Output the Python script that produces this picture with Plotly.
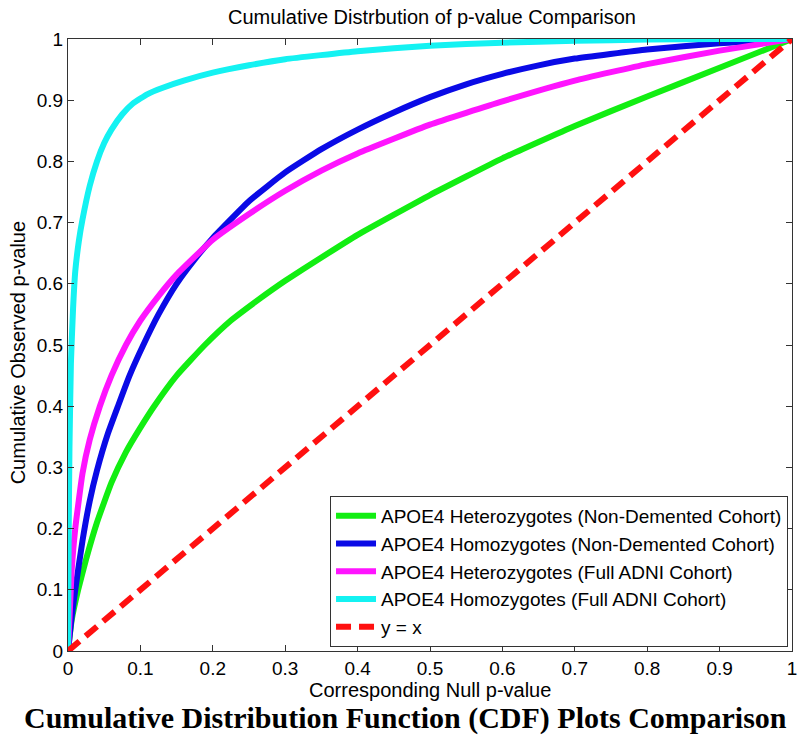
import plotly.graph_objects as go

# ---- data ----
het_nd_x = [0, 0.005, 0.014, 0.025, 0.04, 0.06, 0.08, 0.1, 0.119, 0.15, 0.189, 0.225, 0.264, 0.3, 0.35, 0.4, 0.5, 0.6, 0.7, 0.8, 0.9, 1.0]
het_nd_y = [0, 0.05, 0.10, 0.15, 0.21, 0.275, 0.325, 0.365, 0.40, 0.45, 0.50, 0.54, 0.575, 0.605, 0.643, 0.68, 0.745, 0.805, 0.858, 0.906, 0.953, 1.0]

hom_nd_x = [0, 0.005, 0.01, 0.02, 0.03, 0.04, 0.055, 0.069, 0.085, 0.104, 0.125, 0.15, 0.175, 0.2, 0.25, 0.3, 0.35, 0.4, 0.45, 0.5, 0.55, 0.6, 0.65, 0.7, 0.8, 0.9, 1.0]
hom_nd_y = [0, 0.055, 0.10, 0.18, 0.245, 0.295, 0.355, 0.40, 0.45, 0.50, 0.55, 0.60, 0.64, 0.675, 0.735, 0.782, 0.82, 0.852, 0.88, 0.905, 0.926, 0.943, 0.957, 0.968, 0.983, 0.993, 1.0]

het_full_x = [0, 0.005, 0.01, 0.02, 0.03, 0.044, 0.06, 0.08, 0.1, 0.125, 0.15, 0.2, 0.25, 0.3, 0.35, 0.4, 0.5, 0.6, 0.7, 0.8, 0.9, 1.0]
het_full_y = [0, 0.13, 0.20, 0.29, 0.345, 0.40, 0.45, 0.50, 0.54, 0.58, 0.615, 0.672, 0.714, 0.752, 0.785, 0.813, 0.86, 0.898, 0.932, 0.959, 0.981, 1.0]

hom_full_x = [0, 0.001, 0.002, 0.004, 0.007, 0.01, 0.015, 0.02, 0.03, 0.04, 0.05, 0.06, 0.075, 0.09, 0.11, 0.13, 0.16, 0.2, 0.25, 0.3, 0.4, 0.5, 0.6, 0.7, 0.8, 0.9, 1.0]
hom_full_y = [0, 0.20, 0.33, 0.47, 0.56, 0.62, 0.67, 0.705, 0.76, 0.80, 0.83, 0.852, 0.877, 0.895, 0.91, 0.92, 0.932, 0.945, 0.957, 0.967, 0.98, 0.989, 0.994, 0.997, 0.999, 1.0, 1.0]

ref_x = [0, 1]
ref_y = [0, 1]

series_names = [
    "APOE4 Heterozygotes (Non-Demented Cohort)",
    "APOE4 Homozygotes (Non-Demented Cohort)",
    "APOE4 Heterozygotes (Full ADNI Cohort)",
    "APOE4 Homozygotes (Full ADNI Cohort)",
    "y = x",
]
colors = ["#12ee12", "#0a0ae6", "#ff14ff", "#14f2f2", "#ff1010"]

SANS = "Arial, Liberation Sans, sans-serif"
SERIF = "Times New Roman, Liberation Serif, serif"

fig = go.Figure()
data = [(het_nd_x, het_nd_y), (hom_nd_x, hom_nd_y), (het_full_x, het_full_y), (hom_full_x, hom_full_y)]
for (xs, ys), name, col in zip(data, series_names[:4], colors[:4]):
    fig.add_trace(go.Scatter(x=xs, y=ys, mode="lines", name=name,
                             line=dict(color=col, width=6, shape="spline", smoothing=0.4)))
fig.add_trace(go.Scatter(x=ref_x, y=ref_y, mode="lines", name=series_names[4],
                         line=dict(color=colors[4], width=6, dash="15px,8px")))

axis_common = dict(range=[0, 1], dtick=0.1, tick0=0, ticks="inside", ticklen=6, tickcolor="#333333",
                   showline=True, linecolor="#333333", linewidth=1, mirror="ticks",
                   showgrid=False, zeroline=False, ticklabeloverflow="allow",
                   tickfont=dict(family=SANS, size=19, color="black"))

fig.update_layout(
    width=799, height=743,
    margin=dict(l=68, r=2, t=39, b=92),
    paper_bgcolor="white", plot_bgcolor="white",
    xaxis=axis_common,
    yaxis=axis_common,
    showlegend=True,
    legend=dict(x=0.9945, y=0.0065, xanchor="right", yanchor="bottom",
                bgcolor="white", bordercolor="#333333", borderwidth=1,
                font=dict(family=SANS, size=19, color="black"),
                tracegroupgap=0, itemwidth=40),
    title=dict(text="Cumulative Distrbution of p-value Comparison", x=432 / 799, xanchor="center",
               y=1 - 17 / 743, yanchor="middle", font=dict(family=SANS, size=20, color="black")),
)

fig.add_annotation(text="Corresponding Null p-value", xref="paper", yref="paper",
                   x=(432 - 68) / 729, y=(651 - 690) / 612, showarrow=False,
                   xanchor="center", yanchor="middle", font=dict(family=SANS, size=20, color="black"))
fig.add_annotation(text="Cumulative Observed p-value", xref="paper", yref="paper",
                   x=(18 - 68) / 729, y=(651 - 353) / 612, showarrow=False, textangle=-90,
                   xanchor="center", yanchor="middle", font=dict(family=SANS, size=20, color="black"))
fig.add_annotation(text="<b>Cumulative Distribution Function (CDF) Plots Comparison</b>", xref="paper", yref="paper",
                   x=(408 - 68) / 729, y=(651 - 718) / 612, showarrow=False,
                   xanchor="center", yanchor="middle", font=dict(family=SERIF, size=30, color="black"))

fig.write_html("out.html", config={"displayModeBar": False},
               post_script="document.body.style.margin='0px';document.body.style.padding='0px';document.body.style.overflow='hidden';")
